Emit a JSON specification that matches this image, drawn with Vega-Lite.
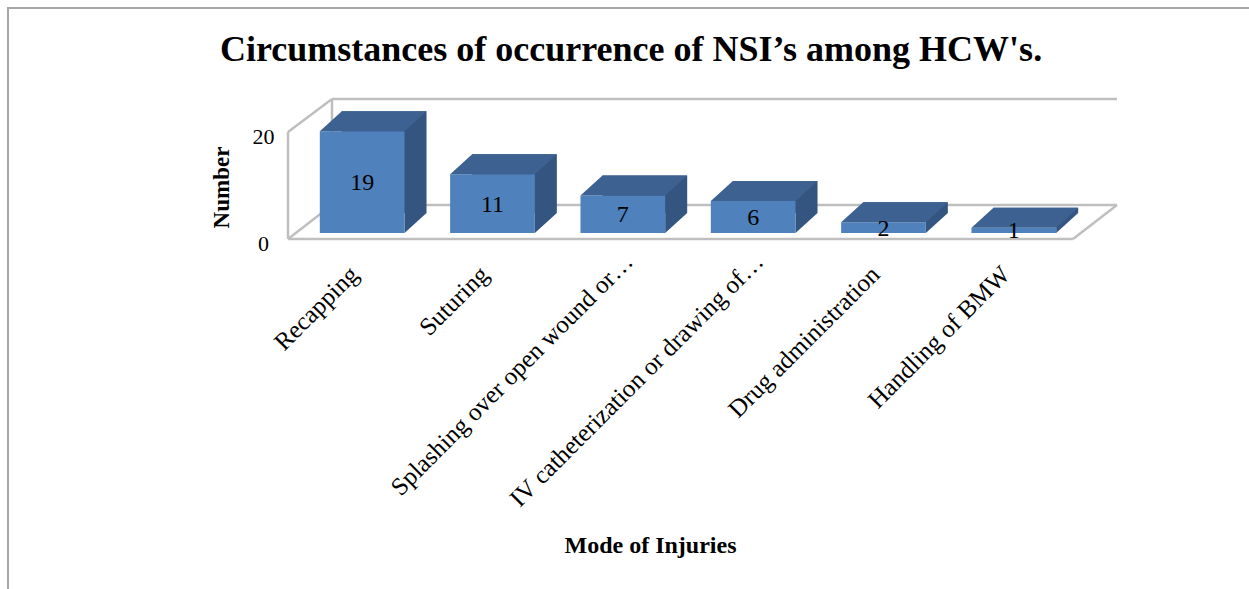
{
  "$schema": "https://vega.github.io/schema/vega-lite/v6.json",
  "width": 1260,
  "height": 600,
  "autosize": "none",
  "padding": {"left": 8, "top": 8, "right": 0, "bottom": 0},
  "background": "white",
  "config": {
    "font": "Liberation Serif",
    "view": {"stroke": "#a6a6a6", "strokeWidth": 2}
  },
  "title": {
    "text": "Circumstances of occurrence of NSI’s among HCW's.",
    "fontSize": 36,
    "fontWeight": "bold",
    "font": "Liberation Serif",
    "color": "#000000",
    "anchor": "middle",
    "frame": "group",
    "baseline": "alphabetic",
    "offset": -89,
    "dx": -7
  },
  "datasets": {
    "injuries": [
      {"mode": "Recapping", "n": 19},
      {"mode": "Suturing", "n": 11},
      {"mode": "Splashing over open wound or…", "n": 7},
      {"mode": "IV catheterization or drawing of…", "n": 6},
      {"mode": "Drug administration", "n": 2},
      {"mode": "Handling of BMW", "n": 1}
    ],
    "frame": [{"part": "wall"}]
  },
  "data": {"name": "injuries"},
  "layer": [
    {
      "data": {"name": "frame"},
      "mark": {"type": "rule", "color": "#bfbfbf", "strokeWidth": 2.5},
      "encoding": {
        "x": {"datum": 0, "type": "quantitative", "scale": {"domain": [0, 1], "range": [280, 1065], "zero": false, "nice": false}, "axis": null},
        "x2": {"datum": 1},
        "y": {"datum": 0, "type": "quantitative", "scale": {"domain": [0, 20], "range": [231, 124], "zero": false, "nice": false},
          "axis": {
            "title": "Number", "orient": "left", "offset": -280, "values": [0, 20],
            "domain": false, "ticks": false, "grid": false,
            "labelFontSize": 22, "labelColor": "#000000", "labelPadding": 25, "labelAlign": "center", "labelBaseline": "middle", "labelOffset": 4,
            "titleFontSize": 23, "titleFontWeight": "bold", "titleColor": "#000000",
            "titleX": -60, "titleY": 179, "titleAngle": -90, "titleAlign": "center", "titleBaseline": "alphabetic"
          }
        }
      }
    },
    {
      "data": {"name": "frame"},
      "mark": {"type": "rule", "color": "#bfbfbf", "strokeWidth": 2.5, "xOffset": 44, "x2Offset": 44, "yOffset": -34},
      "encoding": {
        "x": {"datum": 0, "type": "quantitative", "scale": {"domain": [0, 1], "range": [280, 1065], "zero": false, "nice": false}, "axis": null},
        "x2": {"datum": 1},
        "y": {"datum": 0, "type": "quantitative", "scale": {"domain": [0, 20], "range": [231, 124], "zero": false, "nice": false}, "axis": null}
      }
    },
    {
      "data": {"name": "frame"},
      "mark": {"type": "rule", "color": "#bfbfbf", "strokeWidth": 2.5, "xOffset": 44, "x2Offset": 44, "yOffset": -33},
      "encoding": {
        "x": {"datum": 0, "type": "quantitative", "scale": {"domain": [0, 1], "range": [280, 1065], "zero": false, "nice": false}, "axis": null},
        "x2": {"datum": 1},
        "y": {"datum": 20, "type": "quantitative", "scale": {"domain": [0, 20], "range": [231, 124], "zero": false, "nice": false}, "axis": null}
      }
    },
    {
      "data": {"name": "frame"},
      "mark": {"type": "rule", "color": "#bfbfbf", "strokeWidth": 2.5},
      "encoding": {
        "x": {"datum": 0, "type": "quantitative", "scale": {"domain": [0, 1], "range": [280, 1065], "zero": false, "nice": false}, "axis": null},
        "y": {"datum": 0, "type": "quantitative", "scale": {"domain": [0, 20], "range": [231, 124], "zero": false, "nice": false}, "axis": null},
        "y2": {"datum": 20}
      }
    },
    {
      "data": {"name": "frame"},
      "mark": {"type": "rule", "color": "#bfbfbf", "strokeWidth": 2.5, "xOffset": 44, "yOffset": -34, "y2Offset": -33},
      "encoding": {
        "x": {"datum": 0, "type": "quantitative", "scale": {"domain": [0, 1], "range": [280, 1065], "zero": false, "nice": false}, "axis": null},
        "y": {"datum": 0, "type": "quantitative", "scale": {"domain": [0, 20], "range": [231, 124], "zero": false, "nice": false}, "axis": null},
        "y2": {"datum": 20}
      }
    },
    {
      "data": {"name": "frame"},
      "mark": {"type": "rule", "color": "#bfbfbf", "strokeWidth": 2.5, "x2Offset": 44, "y2Offset": -33},
      "encoding": {
        "x": {"datum": 0, "type": "quantitative", "scale": {"domain": [0, 1], "range": [280, 1065], "zero": false, "nice": false}, "axis": null},
        "x2": {"datum": 0},
        "y": {"datum": 20, "type": "quantitative", "scale": {"domain": [0, 20], "range": [231, 124], "zero": false, "nice": false}, "axis": null},
        "y2": {"datum": 20}
      }
    },
    {
      "data": {"name": "frame"},
      "mark": {"type": "rule", "color": "#bfbfbf", "strokeWidth": 2.5, "x2Offset": 44, "y2Offset": -34},
      "encoding": {
        "x": {"datum": 0, "type": "quantitative", "scale": {"domain": [0, 1], "range": [280, 1065], "zero": false, "nice": false}, "axis": null},
        "x2": {"datum": 0},
        "y": {"datum": 0, "type": "quantitative", "scale": {"domain": [0, 20], "range": [231, 124], "zero": false, "nice": false}, "axis": null},
        "y2": {"datum": 0}
      }
    },
    {
      "data": {"name": "frame"},
      "mark": {"type": "rule", "color": "#bfbfbf", "strokeWidth": 2.5, "x2Offset": 44, "y2Offset": -34},
      "encoding": {
        "x": {"datum": 1, "type": "quantitative", "scale": {"domain": [0, 1], "range": [280, 1065], "zero": false, "nice": false}, "axis": null},
        "x2": {"datum": 1},
        "y": {"datum": 0, "type": "quantitative", "scale": {"domain": [0, 20], "range": [231, 124], "zero": false, "nice": false}, "axis": null},
        "y2": {"datum": 0}
      }
    },
    {
      "mark": {"type": "bar", "color": "#34557f", "xOffset": 22, "x2Offset": 22, "yOffset": -26, "y2Offset": -26},
      "encoding": {
        "x": {"field": "mode", "type": "nominal", "sort": null, "scale": {"range": [289, 1071], "paddingInner": 0.35, "paddingOuter": 0.175}, "axis": null},
        "y": {"field": "n", "type": "quantitative", "scale": {"domain": [0, 20], "range": [231, 124], "zero": false, "nice": false}, "axis": null}
      }
    },
    {
      "mark": {"type": "point", "shape": "M0.847,0 L1.287,-0.4 L0.847,-0.4 Z", "size": 10000, "filled": true, "fill": "#34557f", "opacity": 1, "strokeWidth": 0, "yOffset": -6},
      "encoding": {
        "x": {"field": "mode", "type": "nominal", "sort": null, "scale": {"range": [289, 1071], "paddingInner": 0.35, "paddingOuter": 0.175}, "axis": null},
        "y": {"datum": 0, "type": "quantitative", "scale": {"domain": [0, 20], "range": [231, 124], "zero": false, "nice": false}, "axis": null}
      }
    },
    {
      "mark": {"type": "bar", "color": "#4f81bd", "yOffset": -6, "y2Offset": -6},
      "encoding": {
        "x": {"field": "mode", "type": "nominal", "sort": null, "scale": {"range": [289, 1071], "paddingInner": 0.35, "paddingOuter": 0.175},
          "axis": {
            "title": "Mode  of Injuries", "orient": "bottom", "offset": -369,
            "domain": false, "ticks": false, "grid": false,
            "labelAngle": -45, "labelAlign": "right", "labelBaseline": "middle",
            "labelPadding": {"condition": {"test": "length(datum.label) > 25", "value": 18}, "value": 31},
            "labelOffset": {"condition": {"test": "length(datum.label) > 25", "value": 6}, "value": -8},
            "labelFontSize": 25, "labelColor": "#000000", "labelLimit": 0,
            "titleFontSize": 24, "titleFontWeight": "bold", "titleColor": "#000000",
            "titleX": 642, "titleY": 313, "titleBaseline": "alphabetic", "titleAlign": "center"
          }
        },
        "y": {"field": "n", "type": "quantitative", "scale": {"domain": [0, 20], "range": [231, 124], "zero": false, "nice": false}, "axis": null}
      }
    },
    {
      "mark": {"type": "point", "shape": "M-0.847,0 L0.847,0 L1.287,-0.4 L-0.407,-0.4 Z", "size": 10000, "filled": true, "fill": "#3d6292", "opacity": 1, "strokeWidth": 0, "yOffset": -6},
      "encoding": {
        "x": {"field": "mode", "type": "nominal", "sort": null, "scale": {"range": [289, 1071], "paddingInner": 0.35, "paddingOuter": 0.175}, "axis": null},
        "y": {"field": "n", "type": "quantitative", "scale": {"domain": [0, 20], "range": [231, 124], "zero": false, "nice": false}, "axis": null}
      }
    },
    {
      "mark": {"type": "text", "fontSize": 24, "color": "#000000", "baseline": "middle", "align": "center", "dy": 1, "yOffset": -6},
      "encoding": {
        "x": {"field": "mode", "type": "nominal", "sort": null, "scale": {"range": [289, 1071], "paddingInner": 0.35, "paddingOuter": 0.175}, "axis": null},
        "y": {"field": "n", "type": "quantitative", "scale": {"domain": [0, 40], "range": [231, 124], "zero": false, "nice": false}, "axis": null},
        "text": {"field": "n", "type": "quantitative"}
      }
    }
  ],
  "resolve": {"scale": {"x": "independent", "y": "independent"}, "axis": {"x": "independent", "y": "independent"}}
}
